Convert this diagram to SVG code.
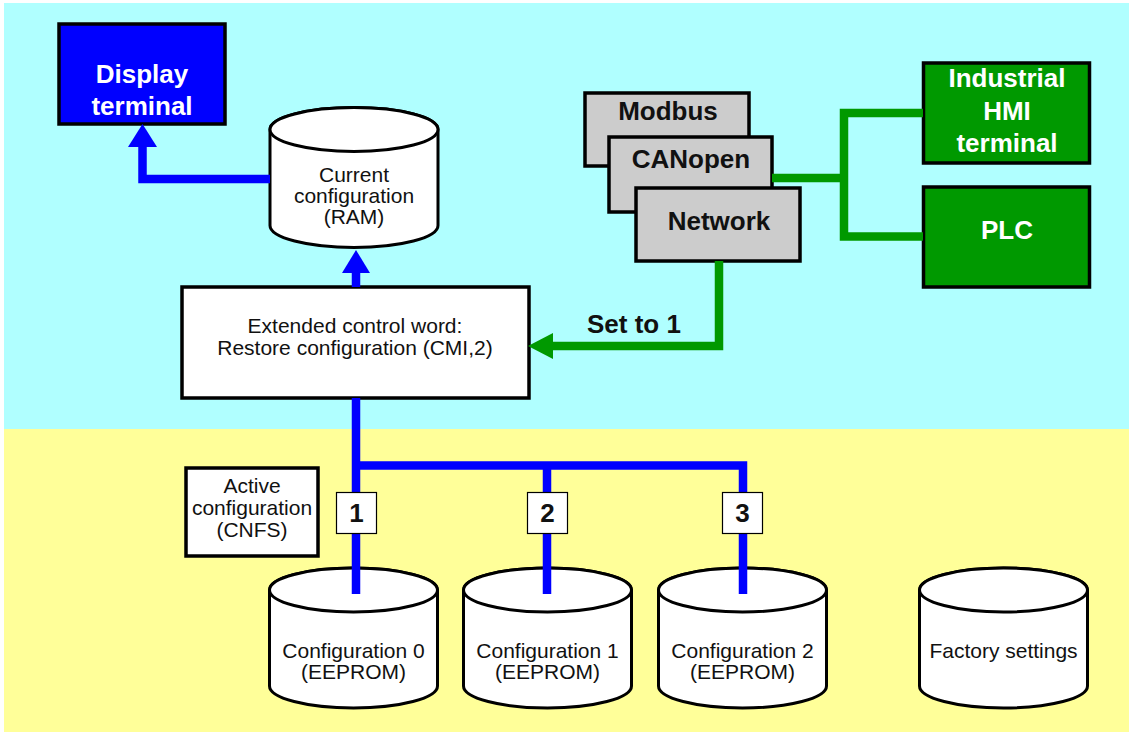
<svg xmlns="http://www.w3.org/2000/svg" xmlns:xlink="http://www.w3.org/1999/xlink" width="1129" height="734" viewBox="0 0 1129 734">
<style>
.t{font-family:"Liberation Sans",Arial,sans-serif;font-size:21px;fill:#111;text-anchor:middle}
.b{font-family:"Liberation Sans",Arial,sans-serif;font-size:26px;font-weight:bold;text-anchor:middle}
.w{fill:#fff}
.k{fill:#111}
.box{stroke:#000;stroke-width:3.5}
.cyl{fill:#fff;stroke:#000;stroke-width:3}
.bl{fill:none;stroke:#0000ff;stroke-width:8.5;stroke-linejoin:miter;stroke-linecap:butt}
.gr{fill:none;stroke:#009900;stroke-width:8.5;stroke-linejoin:miter;stroke-linecap:butt}
.num{fill:#fff;stroke:#000;stroke-width:1.2}
</style>
<defs>
<g id="cylshape">
<path class="cyl" d="M-84,0 V96 A84,22 0 0 0 84,96 V0 A84,22 0 0 0 -84,0 Z"/>
<ellipse class="cyl" cx="0" cy="0" rx="84" ry="22"/>
</g>
</defs>
<rect x="4" y="3" width="1125" height="426" fill="#b0ffff"/>
<rect x="4" y="429" width="1125" height="303" fill="#ffff99"/>

<g id="display-terminal">
<rect class="box" x="59" y="24" width="166" height="100" fill="#0000ff"/>
<text class="b w" x="142" y="83">Display</text>
<text class="b w" x="142" y="115">terminal</text>
</g>

<g id="current-configuration">
<use xlink:href="#cylshape" transform="translate(354,129.5)"/>
<text class="t" x="354" y="181.5">Current</text>
<text class="t" x="354" y="202.5">configuration</text>
<text class="t" x="354" y="223.5">(RAM)</text>
</g>

<g id="extended-control-word">
<rect class="box" x="182" y="287" width="347" height="111" fill="#fff"/>
<text class="t" x="355" y="333">Extended control word:</text>
<text class="t" x="355" y="355">Restore configuration (CMI,2)</text>
</g>

<g id="modbus">
<rect class="box" x="585" y="93" width="164" height="73" fill="#cccccc"/>
<text class="b k" x="668" y="120">Modbus</text>
</g>
<g id="canopen">
<rect class="box" x="609" y="137" width="163" height="75" fill="#cccccc"/>
<text class="b k" x="691" y="168">CANopen</text>
</g>
<g id="network">
<rect class="box" x="636" y="188" width="164" height="73" fill="#cccccc"/>
<text class="b k" x="719" y="230">Network</text>
</g>

<g id="industrial-hmi-terminal">
<rect class="box" x="923.5" y="63" width="166" height="100" fill="#009900"/>
<text class="b w" x="1007" y="87">Industrial</text>
<text class="b w" x="1007" y="120">HMI</text>
<text class="b w" x="1007" y="152">terminal</text>
</g>
<g id="plc">
<rect class="box" x="923.5" y="187" width="166" height="100" fill="#009900"/>
<text class="b w" x="1007" y="239">PLC</text>
</g>

<g id="active-configuration">
<rect class="box" x="186" y="468" width="132" height="88" fill="#fff"/>
<text class="t" x="252" y="493">Active</text>
<text class="t" x="252" y="515">configuration</text>
<text class="t" x="252" y="537">(CNFS)</text>
</g>

<g id="configuration-0">
<use xlink:href="#cylshape" transform="translate(353.5,590)"/>
<text class="t" x="353.5" y="658">Configuration 0</text>
<text class="t" x="353.5" y="679">(EEPROM)</text>
</g>
<g id="configuration-1">
<use xlink:href="#cylshape" transform="translate(547.5,590)"/>
<text class="t" x="547.5" y="658">Configuration 1</text>
<text class="t" x="547.5" y="679">(EEPROM)</text>
</g>
<g id="configuration-2">
<use xlink:href="#cylshape" transform="translate(742.5,590)"/>
<text class="t" x="742.5" y="658">Configuration 2</text>
<text class="t" x="742.5" y="679">(EEPROM)</text>
</g>
<g id="factory-settings">
<use xlink:href="#cylshape" transform="translate(1003.5,590)"/>
<text class="t" x="1003.5" y="658">Factory settings</text>
</g>

<g id="connectors">
<path class="bl" d="M270,179 H142.5 V145"/>
<polygon points="142.5,124 128,147 157,147" fill="#0000ff"/>
<path class="bl" d="M356,287 V272"/>
<polygon points="356,250 342,273 370,273" fill="#0000ff"/>
<path class="bl" d="M356,398 V594"/>
<path class="bl" d="M352,465.5 H743 V594"/>
<path class="bl" d="M547,465.5 V594"/>
<path class="gr" d="M719,261 V346 H551"/>
<polygon points="528,346 553,333 553,359" fill="#009900"/>
<path class="gr" d="M772,178 H844"/>
<path class="gr" d="M923,113 H844 V236.5 H923"/>
<text class="b k" x="634" y="333">Set to 1</text>
</g>

<g id="num-1">
<rect class="num" x="336.5" y="492.5" width="40" height="41"/>
<text class="b k" x="356.5" y="522">1</text>
</g>
<g id="num-2">
<rect class="num" x="527.5" y="492.5" width="40" height="41"/>
<text class="b k" x="547.5" y="522">2</text>
</g>
<g id="num-3">
<rect class="num" x="722.5" y="492.5" width="40" height="41"/>
<text class="b k" x="742.5" y="522">3</text>
</g>
</svg>
